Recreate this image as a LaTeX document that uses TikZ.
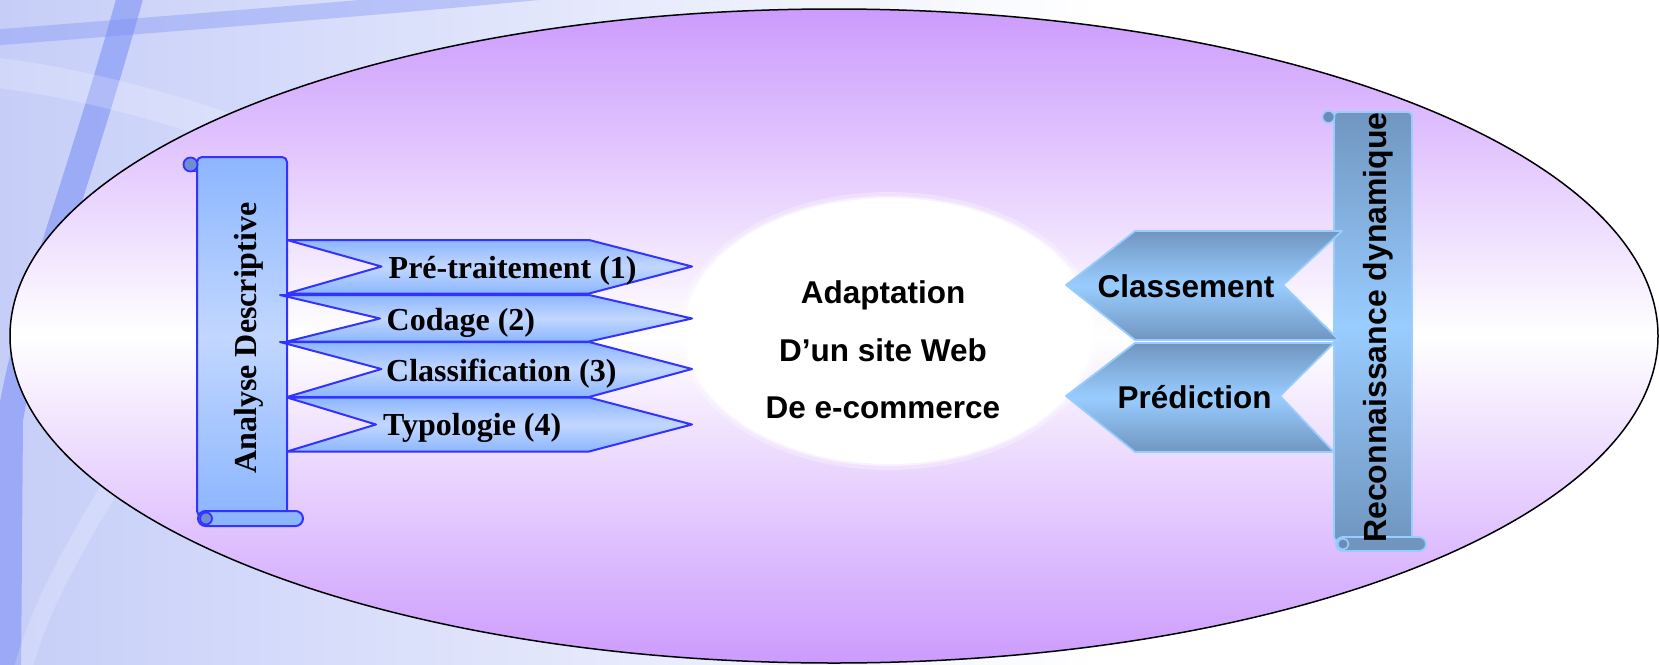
\documentclass[tikz,border=0pt]{standalone}
\usepackage{fontspec}
\usetikzlibrary{shapes.geometric}
\setmainfont{Liberation Serif}
\newfontfamily\arialfont{Liberation Sans}

\definecolor{bgblue}{RGB}{198,206,248}
\definecolor{streak}{RGB}{120,140,245}
\definecolor{lilac}{RGB}{204,155,253}
\definecolor{lblueA}{RGB}{140,182,255}
\definecolor{lblueB}{RGB}{194,215,255}
\definecolor{lstroke}{RGB}{51,51,255}
\definecolor{sblueA}{RGB}{112,150,192}
\definecolor{sblueB}{RGB}{153,204,255}
\definecolor{sstroke}{RGB}{153,204,255}
\definecolor{curlL}{RGB}{112,140,210}
\definecolor{curlR}{RGB}{105,140,185}

\tikzset{
  leftshape/.style={draw=lstroke, line width=2, line join=round,
    top color=lblueA, bottom color=lblueA, middle color=lblueB},
  leftroll/.style={draw=lstroke, line width=2, fill=lblueA},
  leftcurl/.style={draw=lstroke, line width=1.8, fill=curlL},
  rightshape/.style={draw=sstroke, line width=1.8, line join=round,
    top color=sblueA, bottom color=sblueA, middle color=sblueB},
  rightroll/.style={draw=sstroke, line width=1.8, fill=sblueA},
  rightcurl/.style={draw=sstroke, line width=1.6, fill=curlR},
  serifbold/.style={font=\fontsize{32}{38}\selectfont\bfseries, inner sep=0},
  sansbold/.style={font=\arialfont\fontsize{31.5}{38}\selectfont\bfseries, inner sep=0},
}

\begin{document}
\begin{tikzpicture}[x=1pt,y=-1pt]
\useasboundingbox (0,0) rectangle (1659,664);

% backdrop with soft blue streaks on the left
\fill[white] (0,0) rectangle (1659,664);
\shade[left color=bgblue, right color=white] (0,0) rectangle (1100,664);
\draw[streak, line width=26, opacity=0.55] (132,-10) .. controls (80,180) and (30,300) .. (10,420) -- (8,680);
\draw[streak, line width=16, opacity=0.35] (-10,38) .. controls (150,25) and (350,10) .. (560,-10);
\draw[white, line width=30, opacity=0.2] (-10,72) .. controls (80,82) and (180,110) .. (260,140);
\draw[white, line width=18, opacity=0.18] (120,470) .. controls (80,540) and (40,600) .. (20,680);

% large outer ellipse
\path[draw=black, line width=1.5, top color=lilac, bottom color=lilac, middle color=white]
  (834,336) ellipse [x radius=824, y radius=327];

% central white ellipse with a soft rim
\fill[white, opacity=0.3] (889,331) ellipse [x radius=210, y radius=139];
\fill[white, opacity=0.5] (889,331) ellipse [x radius=206, y radius=135];
\node[ellipse, fill=white, minimum width=408, minimum height=266, inner sep=0] (core) at (889,331) {};
\node[sansbold, anchor=base] (t1) at (883,303) {Adaptation};
\node[sansbold, anchor=base] (t2) at (883,361) {D’un site Web};
\node[sansbold, anchor=base] (t3) at (883,418) {De e-commerce};

% left vertical scroll
\path[leftshape, rounded corners=5] (197,157) rectangle (287,516);
\path[leftcurl] (190.5,164.5) circle[radius=7];
\draw[lstroke, line width=1.5] (190.5,171.5) -- (197,171.5);
\path[leftroll, rounded corners=7.5] (198,511) rectangle (303,526);
\path[leftcurl] (206,518.5) circle[radius=6];
\node[serifbold, rotate=90, anchor=base] (ad) at (256,338) {Analyse Descriptive};

% left banners
\foreach \top/\bot/\mid/\lx/\nx in {240/293.5/266.5/287/381.5, 295/341.5/318.5/280/380, 342/397/369/280/381.5, 397.5/451.5/424.5/287/376}{
  \path[leftshape] (\lx,\top) -- (589,\top) -- (692,\mid) -- (589,\bot) -- (287,\bot) -- (\nx,\mid) -- cycle;
}
\node[serifbold, anchor=base west] (b1) at (388.5,278) {Pré-traitement (1)};
\node[serifbold, anchor=base west] (b2) at (386.5,330) {Codage (2)};
\node[serifbold, anchor=base west] (b3) at (386,381) {Classification (3)};
\node[serifbold, anchor=base west] (b4) at (383,435.5) {Typologie (4)};

% right vertical scroll
\path[rightshape, rounded corners=4] (1334,112) rectangle (1412,541);
\path[rightcurl] (1328.5,117) circle[radius=6];
\path[rightroll, rounded corners=7] (1336,537) rectangle (1426,551);
\path[rightcurl] (1343,544) circle[radius=5.5];
\node[sansbold, font=\arialfont\fontsize{32}{38}\selectfont\bfseries, rotate=90, anchor=base] (rd) at (1386,327.5) {Reconnaissance dynamique};

% right chevrons
\path[rightshape] (1135,231) -- (1342,231) -- (1283,285) -- (1339,340) -- (1135,340) -- (1066,285) -- cycle;
\path[rightshape] (1135,343) -- (1334,343) -- (1280,396) -- (1334,452) -- (1135,452) -- (1066,396) -- cycle;
\node[sansbold, anchor=base] (c1) at (1186,297) {Classement};
\node[sansbold, anchor=base] (c2) at (1194.5,408) {Prédiction};
\end{tikzpicture}
\end{document}
